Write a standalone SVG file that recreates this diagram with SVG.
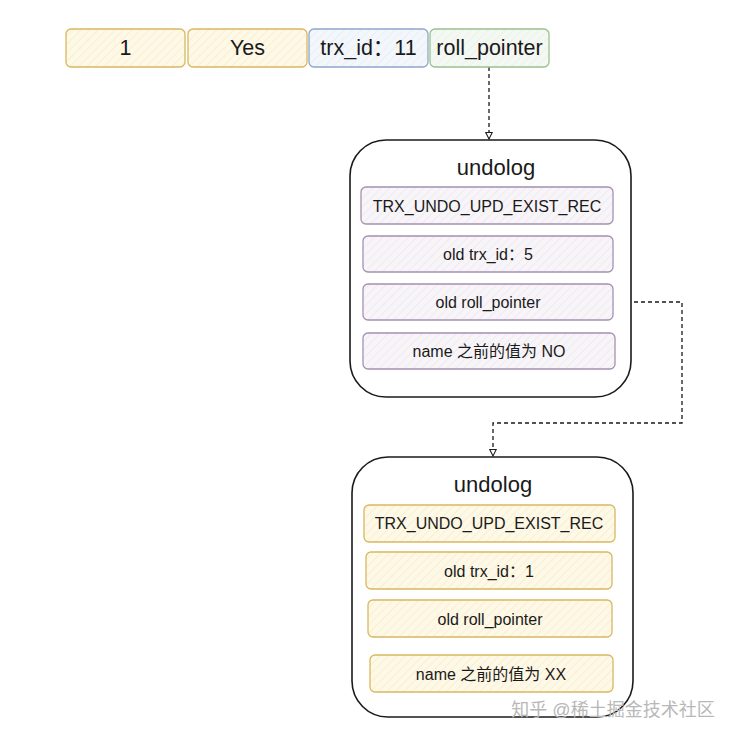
<svg xmlns="http://www.w3.org/2000/svg" width="742" height="740" viewBox="0 0 742 740">
<style>
text{font-family:"Liberation Sans",Arial,"Noto Sans CJK SC",sans-serif;fill:#1a1a1a;text-anchor:middle;dominant-baseline:central}
.big{font-size:21.5px}
.title{font-size:22px}
.item{font-size:16px}
.y{fill:url(#hy);stroke:#d8b860;stroke-width:1.3}
.b{fill:url(#hb);stroke:#8ea6c9;stroke-width:1.3}
.g{fill:url(#hg);stroke:#9cc08e;stroke-width:1.3}
.p{fill:url(#hp);stroke:#a790b3;stroke-width:1.3}
.outer{fill:#fff;stroke:#1a1a1a;stroke-width:1.6}
.conn{fill:none;stroke:#1a1a1a;stroke-width:1.3;stroke-dasharray:4,3}
</style>
<defs>
<pattern id="hy" width="6" height="6" patternUnits="userSpaceOnUse" patternTransform="rotate(45)"><rect width="6" height="6" fill="#fef8e6"/><line x1="0" y1="0" x2="0" y2="6" stroke="#f3e6c0" stroke-width="1"/></pattern>
<pattern id="hb" width="6" height="6" patternUnits="userSpaceOnUse" patternTransform="rotate(45)"><rect width="6" height="6" fill="#f3f7fc"/><line x1="0" y1="0" x2="0" y2="6" stroke="#e0e8f3" stroke-width="1"/></pattern>
<pattern id="hg" width="6" height="6" patternUnits="userSpaceOnUse" patternTransform="rotate(45)"><rect width="6" height="6" fill="#f4f8f3"/><line x1="0" y1="0" x2="0" y2="6" stroke="#e2ece0" stroke-width="1"/></pattern>
<pattern id="hp" width="6" height="6" patternUnits="userSpaceOnUse" patternTransform="rotate(45)"><rect width="6" height="6" fill="#f8f5f9"/><line x1="0" y1="0" x2="0" y2="6" stroke="#e6e0e9" stroke-width="1"/></pattern>
<marker id="arr" viewBox="0 0 10 10" refX="9" refY="5" markerWidth="8" markerHeight="8" orient="auto" markerUnits="userSpaceOnUse"><path d="M1,1 L9,5 L1,9 Z" fill="#fff" stroke="#1a1a1a" stroke-width="1.3"/></marker>
</defs>
<g id="connectors">
<path class="conn" d="M489,67 L489,139" marker-end="url(#arr)"/>
<path class="conn" d="M613,302 L682,302 L682,423 L493,423 L493,456" marker-end="url(#arr)"/>
</g>
<g id="field-1"><rect class="y" x="66" y="29" width="119" height="38" rx="5"/><text class="big" x="125.5" y="48">1</text></g>
<g id="field-yes"><rect class="y" x="188" y="29" width="119" height="38" rx="5"/><text class="big" x="247.5" y="48">Yes</text></g>
<g id="field-trx"><rect class="b" x="309" y="29" width="119" height="38" rx="5"/><text class="big" x="368.5" y="48">trx_id：11</text></g>
<g id="field-roll"><rect class="g" x="430" y="29" width="119" height="38" rx="5"/><text class="big" x="489.5" y="48">roll_pointer</text></g>
<g id="undolog-1">
<rect class="outer" x="350" y="140" width="281" height="257" rx="36"/>
<text class="title" x="496" y="167">undolog</text>
<rect class="p" x="361" y="187" width="252" height="37" rx="5"/><text class="item" x="487" y="206">TRX_UNDO_UPD_EXIST_REC</text>
<rect class="p" x="363" y="236" width="250" height="36" rx="5"/><text class="item" x="488" y="254">old trx_id：5</text>
<rect class="p" x="363" y="284" width="250" height="36" rx="5"/><text class="item" x="488" y="302">old roll_pointer</text>
<rect class="p" x="363" y="333" width="252" height="36" rx="5"/><text class="item" x="489" y="351">name 之前的值为 NO</text>
</g>
<g id="undolog-2">
<rect class="outer" x="352" y="457" width="281" height="260" rx="36"/>
<text class="title" x="493" y="484">undolog</text>
<rect class="y" x="364" y="505" width="251" height="37" rx="5"/><text class="item" x="489" y="523">TRX_UNDO_UPD_EXIST_REC</text>
<rect class="y" x="366" y="552" width="246" height="37" rx="5"/><text class="item" x="489" y="571">old trx_id：1</text>
<rect class="y" x="368" y="600" width="244" height="37" rx="5"/><text class="item" x="490" y="619">old roll_pointer</text>
<rect class="y" x="370" y="655" width="243" height="37" rx="5"/><text class="item" x="491" y="674">name 之前的值为 XX</text>
</g>
<text x="613" y="710" style="font-size:18px;fill:#b8b8b8">知乎 @稀土掘金技术社区</text>
</svg>
